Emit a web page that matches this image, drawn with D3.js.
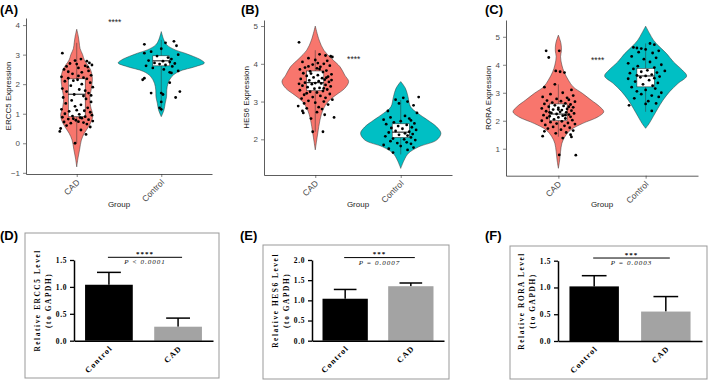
<!DOCTYPE html>
<html lang="en">
<head>
<meta charset="UTF-8">
<title>Violin and bar panels</title>
<script src="https://d3js.org/d3.v7.min.js"></script>
<style>
  body { margin: 0; background: #fff; }
  svg text { font-family: "Liberation Sans", Arial, sans-serif; }
  .prism text { font-family: "Liberation Serif", "Times New Roman", serif; font-weight: bold; fill: #000; }
</style>
</head>
<body>
<script>
const groups = ["CAD", "Control"];
const groupColors = ["#F8766D", "#00BFC4"];

// ---- panel A: ERCC5 ----
const aTicks = [-1, 0, 1, 2, 3, 4];
// violin profiles: [value, half width in group steps]
const aCadViolin = [[3.86,0],[3.6,0.02],[3.4,0.03],[3.2,0.04],[3.0,0.07],[2.82,0.09],[2.65,0.13],[2.48,0.165],[2.2,0.185],[1.8,0.17],[1.53,0.155],[1.24,0.165],[0.96,0.19],[0.79,0.18],[0.56,0.14],[0.34,0.09],[0.11,0.055],[-0.2,0.035],[-0.5,0.015],[-0.8,0]];
const aCtrlViolin = [[3.78,0],[3.5,0.03],[3.33,0.065],[3.16,0.165],[3.05,0.28],[2.94,0.38],[2.82,0.47],[2.72,0.51],[2.6,0.41],[2.43,0.21],[2.26,0.125],[2.03,0.08],[1.8,0.065],[1.58,0.063],[1.36,0.047],[1.13,0.032],[0.9,0]];
// box: [lower whisker, q1, median, q3, upper whisker]
const aCadBox = [0.0, 0.9, 1.66, 2.18, 3.4];
const aCtrlBox = [1.07, 2.62, 2.79, 2.96, 3.5];
// points: [value, jitter in group steps]
const aCadPts = [[3.05,-0.17],[2.85,0.05],[2.8,-0.02],[2.78,0.12],[2.72,0.15],[2.7,-0.08],[2.65,0.18],[2.62,0.1],[2.6,-0.12],[2.55,0.02],[2.5,-0.15],[2.45,0.14],[2.4,0.06],[2.35,-0.05],[2.3,0.17],[2.25,-0.18],[2.22,0.08],[2.2,-0.1],[2.18,0.12],[2.15,0.01],[2.1,-0.14],[2.05,0.16],[2.0,0.06],[1.95,-0.07],[1.9,0.19],[1.85,-0.17],[1.82,0.03],[1.78,0.1],[1.75,-0.12],[1.7,0.14],[1.65,-0.03],[1.6,0.08],[1.55,-0.16],[1.5,0.11],[1.45,-0.06],[1.4,0.17],[1.35,-0.13],[1.3,0.05],[1.25,-0.02],[1.2,0.13],[1.15,-0.18],[1.1,0.09],[1.08,-0.09],[1.05,0.16],[1.0,-0.14],[0.98,0.03],[0.95,0.18],[0.92,-0.05],[0.9,0.1],[0.88,-0.17],[0.85,0.06],[0.82,-0.1],[0.8,0.14],[0.78,-0.01],[0.75,0.19],[0.72,-0.15],[0.7,0.08],[0.68,-0.07],[0.65,0.12],[0.6,-0.12],[0.55,0.16],[0.5,-0.19],[0.45,0.05],[0.4,-0.2],[0.3,0.11],[0.0,-0.02],[2.68,0.0],[2.58,0.13],[2.42,-0.1],[2.28,0.02],[2.12,-0.04],[1.62,0.17],[1.12,0.0],[0.87,0.04],[0.83,-0.04],[0.73,0.02]];
const aCtrlPts = [[3.45,0.15],[3.4,0.05],[3.35,-0.2],[3.3,0.18],[3.2,0.0],[3.1,-0.12],[3.05,-0.2],[3.0,0.2],[2.95,-0.05],[2.9,0.08],[2.85,0.12],[2.8,-0.15],[2.78,0.02],[2.75,0.1],[2.72,-0.08],[2.7,0.16],[2.68,-0.02],[2.65,0.05],[2.62,-0.18],[2.6,0.13],[2.55,-0.1],[2.5,0.03],[2.45,0.2],[2.4,0.1],[2.38,0.12],[2.2,-0.2],[2.15,-0.22],[2.05,0.1],[1.75,0.22],[1.7,-0.12],[1.7,0.0],[1.65,0.02],[1.55,0.17],[1.4,0.0],[1.2,-0.02],[1.15,0.0]];

// ---- panel B: HES6 ----
const bTicks = [2, 3, 4, 5];
const bCadViolin = [[5.0,0],[4.63,0.045],[4.36,0.1],[4.14,0.19],[3.92,0.29],[3.7,0.345],[3.53,0.39],[3.35,0.345],[3.17,0.24],[3.0,0.15],[2.78,0.09],[2.51,0.055],[2.17,0.03],[1.95,0.015],[1.72,0]];
const bCtrlViolin = [[3.53,0],[3.35,0.055],[3.13,0.085],[2.86,0.115],[2.69,0.2],[2.51,0.315],[2.33,0.42],[2.16,0.47],[1.98,0.42],[1.8,0.21],[1.63,0.09],[1.45,0.04],[1.23,0]];
const bCadBox = [2.2, 3.29, 3.5, 3.81, 4.36];
const bCtrlBox = [1.6, 2.05, 2.19, 2.41, 3.04];
const bCadPts = [[4.57,-0.19],[4.25,0.05],[4.22,0.12],[4.2,0.18],[4.18,0.2],[4.15,-0.08],[4.1,0.0],[4.08,0.14],[4.05,-0.15],[4.0,0.1],[3.98,-0.03],[3.95,0.17],[3.92,0.06],[3.9,-0.12],[3.88,0.02],[3.85,-0.18],[3.82,0.13],[3.8,-0.06],[3.78,0.09],[3.75,-0.14],[3.72,0.19],[3.7,0.03],[3.68,-0.1],[3.66,0.15],[3.64,-0.02],[3.62,0.08],[3.6,-0.17],[3.58,0.11],[3.56,-0.07],[3.54,0.04],[3.52,0.16],[3.5,-0.12],[3.49,0.0],[3.48,0.07],[3.46,-0.04],[3.44,0.12],[3.42,-0.15],[3.4,0.18],[3.38,-0.09],[3.36,0.05],[3.34,-0.01],[3.32,0.14],[3.3,-0.18],[3.28,0.09],[3.26,-0.06],[3.24,0.02],[3.2,0.17],[3.18,-0.13],[3.15,0.06],[3.12,-0.03],[3.1,0.12],[3.08,-0.16],[3.05,0.2],[3.02,-0.08],[3.0,0.1],[2.97,0.0],[2.95,-0.13],[2.92,0.15],[2.88,-0.2],[2.85,0.04],[2.82,-0.1],[2.8,0.08],[2.75,-0.15],[2.72,0.02],[2.7,-0.14],[2.65,0.11],[2.58,0.22],[2.55,-0.05],[2.2,-0.03],[2.2,0.09],[3.86,0.05],[3.74,-0.05],[3.57,0.19],[3.47,-0.19],[3.63,0.13],[3.93,-0.08],[4.02,0.03],[3.35,0.1],[3.22,-0.1]];
const bCtrlPts = [[3.12,0.21],[3.1,0.03],[3.05,-0.06],[3.0,0.08],[2.95,-0.02],[2.9,0.15],[2.75,-0.15],[2.7,0.19],[2.62,0.05],[2.58,-0.12],[2.55,0.1],[2.52,-0.2],[2.5,0.12],[2.48,0.0],[2.45,-0.08],[2.42,0.16],[2.4,-0.17],[2.38,0.07],[2.35,-0.03],[2.32,0.13],[2.3,-0.11],[2.28,0.02],[2.25,0.18],[2.22,-0.06],[2.2,0.1],[2.18,-0.14],[2.16,0.05],[2.14,0.14],[2.12,-0.02],[2.1,0.08],[2.08,-0.18],[2.05,0.12],[2.02,-0.09],[2.0,0.04],[1.98,0.17],[1.95,-0.12],[1.92,0.07],[1.9,-0.04],[1.88,0.12],[1.85,-0.2],[1.82,0.0],[1.78,0.15],[1.75,-0.14],[1.72,0.08],[1.65,-0.09]];

// ---- panel C: RORA ----
const cTicks = [1, 2, 3, 4, 5];
const cCadViolin = [[5.06,0],[4.76,0.03],[4.5,0.035],[4.29,0.025],[3.99,0.04],[3.75,0.065],[3.45,0.115],[3.21,0.17],[2.98,0.275],[2.74,0.375],[2.5,0.475],[2.32,0.52],[2.14,0.455],[1.9,0.275],[1.67,0.14],[1.43,0.075],[1.19,0.04],[0.89,0.025],[0.6,0.015],[0.3,0]];
const cCtrlViolin = [[5.38,0],[5.12,0.045],[4.88,0.09],[4.64,0.16],[4.4,0.24],[4.1,0.32],[3.81,0.42],[3.6,0.47],[3.33,0.37],[3.04,0.275],[2.74,0.2],[2.44,0.14],[2.14,0.085],[1.9,0.04],[1.73,0]];
const cCadBox = [1.43, 2.0, 2.24, 2.6, 3.3];
const cCtrlBox = [2.32, 3.21, 3.6, 3.87, 4.76];
const cCadPts = [[4.5,-0.14],[4.5,0.01],[4.26,-0.11],[3.78,-0.03],[3.75,0.02],[3.72,0.07],[3.3,-0.04],[3.2,-0.16],[3.1,0.15],[3.0,0.05],[2.95,-0.09],[2.9,0.17],[2.85,-0.18],[2.82,0.1],[2.78,-0.02],[2.75,0.12],[2.72,-0.13],[2.7,0.03],[2.68,0.19],[2.65,-0.07],[2.62,0.08],[2.6,-0.16],[2.58,0.14],[2.55,-0.04],[2.53,0.06],[2.5,-0.11],[2.48,0.17],[2.46,0.0],[2.44,-0.19],[2.42,0.1],[2.4,-0.06],[2.38,0.04],[2.36,0.15],[2.34,-0.14],[2.32,0.02],[2.3,0.09],[2.28,-0.08],[2.26,0.18],[2.24,-0.02],[2.22,0.12],[2.2,-0.17],[2.18,0.05],[2.16,-0.1],[2.14,0.14],[2.12,0.0],[2.1,-0.13],[2.08,0.08],[2.05,-0.05],[2.02,0.16],[2.0,-0.19],[1.98,0.04],[1.95,-0.09],[1.92,0.11],[1.9,-0.02],[1.88,0.19],[1.85,-0.15],[1.82,0.07],[1.78,-0.06],[1.75,0.13],[1.72,-0.12],[1.68,0.03],[1.65,0.17],[1.62,-0.16],[1.58,0.09],[1.55,-0.03],[1.5,0.14],[1.45,-0.18],[1.42,0.15],[1.38,0.05],[0.78,0.01],[0.77,0.2],[2.4,0.0],[2.3,-0.1],[2.2,0.08],[2.5,0.12]];
const cCtrlPts = [[4.76,0.05],[4.72,0.1],[4.62,-0.14],[4.6,-0.1],[4.58,-0.05],[4.55,0.0],[4.5,0.15],[4.45,-0.08],[4.42,0.08],[4.3,-0.16],[4.25,0.12],[4.2,-0.02],[4.1,0.05],[4.05,-0.2],[4.0,0.18],[3.95,-0.09],[3.9,0.1],[3.85,-0.14],[3.8,0.02],[3.78,0.22],[3.75,-0.05],[3.72,0.13],[3.7,-0.18],[3.65,0.07],[3.62,-0.1],[3.6,0.0],[3.58,0.16],[3.55,-0.06],[3.52,0.1],[3.5,-0.2],[3.45,0.04],[3.4,-0.12],[3.35,0.14],[3.3,-0.03],[3.25,0.08],[3.2,-0.16],[3.15,0.11],[3.1,0.0],[3.05,-0.1],[3.0,0.18],[2.95,-0.05],[2.9,0.07],[2.85,0.15],[2.8,-0.13],[2.7,0.03],[2.62,0.12],[2.55,-0.19],[2.35,0.07],[2.6,0.0]];

// significance stars in violin panels: [label, value]
const violinSig = [["****", 4.11], ["****", 4.13], ["****", 4.17]];

// ---- qPCR bar panels (D-F) ----
const barGroups = ["Control", "CAD"];
const ercc5Mean = [1.04, 0.26], ercc5Sd = [0.23, 0.16];
const hes6Mean = [1.04, 1.35], hes6Sd = [0.23, 0.08];
const roraMean = [1.02, 0.55], roraSd = [0.20, 0.28];
const dTicks = [0, 0.5, 1.0, 1.5];
const eTicks = [0, 0.5, 1.0, 1.5, 2.0];
const fTicks = [0, 0.5, 1.0, 1.5];
const barStars = ["****", "***", "***"];
const barP = ["P < 0.0001", "P = 0.0007", "P = 0.0003"];
const sigLevel = [1.55, 2.06, 1.55];

const svg = d3.select("body").append("svg")
  .attr("width", 709).attr("height", 382);

const violinPanels = [
  {tag: "(A)", tagX: 0, gene: "ERCC5", xr: [26, 212], yr: [174, 18], dom: [-1.04, 4.24], ticks: aTicks,
   violins: [aCadViolin, aCtrlViolin], boxes: [aCadBox, aCtrlBox], pts: [aCadPts, aCtrlPts], sig: violinSig[0]},
  {tag: "(B)", tagX: 241, gene: "HES6", xr: [264, 452], yr: [175, 20], dom: [1.055, 5.16], ticks: bTicks,
   violins: [bCadViolin, bCtrlViolin], boxes: [bCadBox, bCtrlBox], pts: [bCadPts, bCtrlPts], sig: violinSig[1]},
  {tag: "(C)", tagX: 485, gene: "RORA", xr: [506, 698], yr: [175.7, 20], dom: [0.036, 5.6], ticks: cTicks,
   violins: [cCadViolin, cCtrlViolin], boxes: [cCadBox, cCtrlBox], pts: [cCadPts, cCtrlPts], sig: violinSig[2]}
];

violinPanels.forEach(p => {
  const x = d3.scalePoint().domain(groups).range(p.xr).padding(0.6);
  const step = x.step();
  const y = d3.scaleLinear().domain(p.dom).range(p.yr);
  const g = svg.append("g");

  g.append("text").attr("x", p.tagX).attr("y", 13.5)
    .style("font-size", "13px").style("font-weight", "bold").text(p.tag);

  p.violins.forEach((prof, i) => {
    const cx = x(groups[i]);
    const area = d3.area().curve(d3.curveCatmullRom.alpha(0.5))
      .y(d => y(d[0]))
      .x0(d => cx - d[1] * step)
      .x1(d => cx + d[1] * step);
    g.append("path").datum(prof).attr("d", area)
      .attr("fill", groupColors[i]).attr("stroke", "#333").attr("stroke-width", 0.5);
  });

  p.boxes.forEach((b, i) => {
    const cx = x(groups[i]);
    const hw = 0.1 * step;
    g.append("line").attr("x1", cx).attr("x2", cx).attr("y1", y(b[0])).attr("y2", y(b[4]))
      .attr("stroke", "#333").attr("stroke-width", 0.5);
    g.append("rect").attr("x", cx - hw).attr("width", 2 * hw)
      .attr("y", y(b[3])).attr("height", y(b[1]) - y(b[3]))
      .attr("fill", "#fff").attr("stroke", "#222").attr("stroke-width", 0.5);
    g.append("line").attr("x1", cx - hw).attr("x2", cx + hw).attr("y1", y(b[2])).attr("y2", y(b[2]))
      .attr("stroke", "#111").attr("stroke-width", 1);
  });

  p.pts.forEach((set, i) => {
    const cx = x(groups[i]);
    g.selectAll(null).data(set).enter().append("circle")
      .attr("cx", d => cx + d[1] * step)
      .attr("cy", d => y(d[0]))
      .attr("r", 1.4).attr("fill", "#000");
  });

  g.append("text")
    .attr("x", x(groups[0]) + 0.45 * step).attr("y", y(p.sig[1]) + 3)
    .attr("text-anchor", "middle").style("font-size", "8.5px").attr("fill", "#222")
    .text(p.sig[0]);

  const yAxis = g.append("g").attr("transform", `translate(${p.xr[0]},0)`)
    .call(d3.axisLeft(y).tickValues(p.ticks).tickSize(3).tickSizeOuter(0).tickFormat(d3.format("d")));
  const xAxis = g.append("g").attr("transform", `translate(0,${p.yr[0]})`)
    .call(d3.axisBottom(x).tickSize(3).tickSizeOuter(0));
  [yAxis, xAxis].forEach(a => {
    a.select(".domain").attr("stroke", "#333").attr("stroke-width", 0.8);
    a.selectAll(".tick line").attr("stroke", "#333").attr("stroke-width", 0.6);
    a.selectAll("text").attr("fill", "#4d4d4d").style("font-size", "8px").style("font-family", "Liberation Sans, Arial, sans-serif");
  });
  xAxis.selectAll("text")
    .attr("y", 0).attr("dy", 0)
    .attr("transform", "translate(3,9) rotate(-45)")
    .style("text-anchor", "end").style("font-size", "8.5px");

  g.append("text").attr("x", (p.xr[0] + p.xr[1]) / 2).attr("y", 206.5)
    .attr("text-anchor", "middle").style("font-size", "8px").attr("fill", "#222").text("Group");
  g.append("text")
    .attr("transform", `translate(${p.xr[0] - 15},${(p.yr[0] + p.yr[1]) / 2}) rotate(-90)`)
    .attr("text-anchor", "middle").style("font-size", "8px").attr("fill", "#222")
    .text(p.gene + " Expression");
});

const barPanels = [
  {tag: "(D)", tagX: 0, gene: "ERCC5", frame: [25, 233, 219, 378], xr: [74, 213], yr: [340.7, 260], max: 1.5,
   ticks: dTicks, mean: ercc5Mean, sd: ercc5Sd},
  {tag: "(E)", tagX: 240, gene: "HES6", frame: [263, 245, 449, 379], xr: [312, 444], yr: [340.7, 260], max: 2.0,
   ticks: eTicks, mean: hes6Mean, sd: hes6Sd},
  {tag: "(F)", tagX: 485, gene: "RORA", frame: [510, 246, 707, 379], xr: [558, 702], yr: [341, 260.7], max: 1.5,
   ticks: fTicks, mean: roraMean, sd: roraSd}
];
const barFill = ["#000", "#a3a3a3"];

barPanels.forEach((p, k) => {
  const g = svg.append("g").attr("class", "prism");
  svg.append("text").attr("x", p.tagX).attr("y", 240)
    .style("font-size", "13px").style("font-weight", "bold").text(p.tag);

  g.append("rect").attr("x", p.frame[0]).attr("y", p.frame[1])
    .attr("width", p.frame[2] - p.frame[0]).attr("height", p.frame[3] - p.frame[1])
    .attr("fill", "none").attr("stroke", "#999").attr("stroke-width", 1);

  const x = d3.scaleBand().domain(barGroups).range(p.xr).paddingInner(0.31).paddingOuter(0.16);
  const y = d3.scaleLinear().domain([0, p.max]).range(p.yr);
  const bw = x.bandwidth();

  // error bars (upper only)
  barGroups.forEach((grp, i) => {
    const cx = x(grp) + bw / 2;
    const top = y(p.mean[i] + p.sd[i]);
    g.append("line").attr("x1", cx).attr("x2", cx).attr("y1", y(p.mean[i])).attr("y2", top)
      .attr("stroke", "#000").attr("stroke-width", 1.5);
    g.append("line").attr("x1", cx - bw / 4).attr("x2", cx + bw / 4).attr("y1", top).attr("y2", top)
      .attr("stroke", "#000").attr("stroke-width", 1.5);
  });

  g.selectAll(".bar").data(barGroups).enter().append("rect")
    .attr("x", d => x(d)).attr("width", bw)
    .attr("y", (d, i) => y(p.mean[i]))
    .attr("height", (d, i) => y(0) - y(p.mean[i]))
    .attr("fill", (d, i) => barFill[i]);

  const yAxis = g.append("g").attr("transform", `translate(${p.xr[0]},0)`)
    .call(d3.axisLeft(y).tickValues(p.ticks).tickSize(4).tickSizeOuter(0).tickFormat(d3.format(".1f")));
  const xAxis = g.append("g").attr("transform", `translate(0,${p.yr[0]})`)
    .call(d3.axisBottom(x).tickSize(0).tickSizeOuter(0));
  [yAxis, xAxis].forEach(a => {
    a.select(".domain").attr("stroke", "#000").attr("stroke-width", 1.5);
    a.selectAll(".tick line").attr("stroke", "#000").attr("stroke-width", 1.3);
    a.selectAll("text").attr("fill", "#111").style("font-size", "7.5px")
      .style("letter-spacing", "0.6px").style("font-family", "Liberation Serif, serif");
  });
  xAxis.selectAll("text")
    .attr("y", 0).attr("dy", 0)
    .attr("transform", "translate(4,8) rotate(-45)")
    .style("text-anchor", "end").style("font-size", "8px").style("letter-spacing", "1.2px");

  const x1 = x(barGroups[0]) + bw / 2 - 1, x2 = x(barGroups[1]) + bw / 2 + 4;
  const ly = y(sigLevel[k]);
  g.append("line").attr("x1", x1).attr("x2", x2).attr("y1", ly).attr("y2", ly)
    .attr("stroke", "#000").attr("stroke-width", 1);
  g.append("text").attr("x", (x1 + x2) / 2).attr("y", ly - 1.5)
    .attr("text-anchor", "middle").style("font-size", "7px").style("letter-spacing", "1px")
    .text(barStars[k]);
  g.append("text").attr("x", (x1 + x2) / 2).attr("y", ly + 7)
    .attr("text-anchor", "middle").style("font-size", "7px").style("letter-spacing", "1px")
    .style("font-style", "italic").style("font-weight", "normal").style("fill", "#111")
    .text(barP[k]);

  const midY = (p.yr[0] + p.yr[1]) / 2;
  g.append("text").attr("transform", `translate(${p.xr[0] - 34},${midY}) rotate(-90)`)
    .attr("text-anchor", "middle").style("font-size", "7.3px").style("letter-spacing", "1.6px")
    .text("Relative " + p.gene + " Level");
  g.append("text").attr("transform", `translate(${p.xr[0] - 23},${midY}) rotate(-90)`)
    .attr("text-anchor", "middle").style("font-size", "7.3px").style("letter-spacing", "1.6px")
    .text("(to GAPDH)");
});
</script>
</body>
</html>
